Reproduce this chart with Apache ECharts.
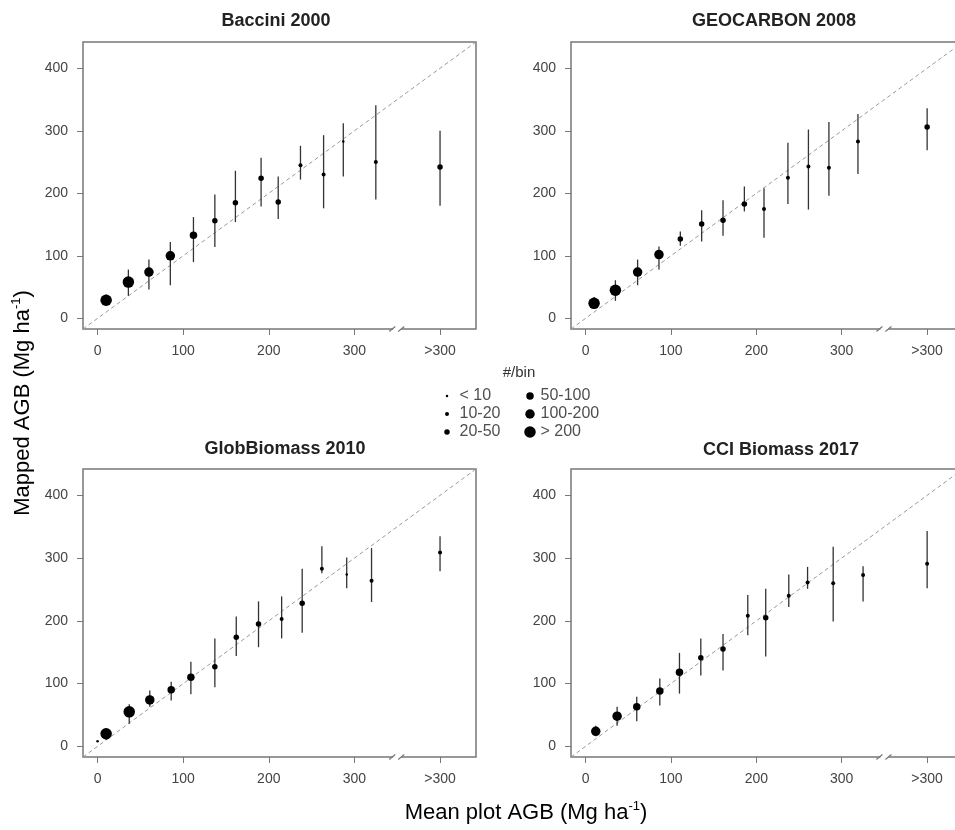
<!DOCTYPE html>
<html>
<head>
<meta charset="utf-8">
<script src="https://cdn.jsdelivr.net/npm/echarts@6/dist/echarts.min.js"></script>
<style>
  html, body { margin: 0; padding: 0; background: #fff; }
  #chart { width: 955px; height: 830px; }
</style>
</head>
<body>
<div id="chart"></div>
<script>
// panel titles
const titles = ['Baccini 2000', 'GEOCARBON 2008', 'GlobBiomass 2010', 'CCI Biomass 2017'];

// bin centre (Mg/ha, 400 = ">300"), mapped mean, error bar low/high, size class
const baccini_x = [10, 36, 60, 85, 112, 137, 161, 191, 211, 237, 264, 287, 325, 400];
const baccini_y = [29, 58, 74, 100, 133, 156, 185, 224, 186, 245, 230, 283, 250, 242];
const baccini_lo = [20, 36, 46, 53, 90, 114, 154, 179, 159, 222, 176, 227, 190, 180];
const baccini_hi = [38, 78, 94, 122, 162, 198, 236, 257, 227, 276, 293, 312, 341, 300];
const baccini_n = [5, 5, 4, 4, 3, 2, 2, 2, 2, 1, 1, 0, 1, 2];

const geocarbon_x = [10, 35, 61, 86, 111, 136, 161, 186, 209, 237, 261, 285, 319, 400];
const geocarbon_y = [24, 45, 74, 102, 127, 151, 157, 183, 175, 225, 243, 241, 283, 306];
const geocarbon_lo = [16, 28, 53, 78, 116, 123, 132, 171, 129, 183, 174, 196, 231, 269];
const geocarbon_hi = [34, 61, 94, 115, 139, 173, 189, 211, 208, 281, 302, 314, 327, 336];
const geocarbon_n = [5, 5, 4, 4, 2, 2, 2, 2, 1, 1, 1, 1, 1, 2];

const globbiomass_x = [0, 10, 37, 61, 86, 109, 137, 162, 188, 215, 239, 262, 291, 320, 400];
const globbiomass_y = [8, 20, 55, 74, 90, 110, 127, 174, 195, 203, 228, 283, 274, 264, 309];
const globbiomass_lo = [8, 10, 36, 63, 73, 83, 94, 144, 158, 172, 181, 276, 252, 230, 279];
const globbiomass_hi = [8, 28, 67, 89, 103, 135, 172, 207, 231, 239, 283, 319, 301, 316, 335];
const globbiomass_n = [0, 5, 5, 4, 3, 3, 2, 2, 2, 1, 2, 1, 0, 1, 1];

const cci_x = [12, 37, 60, 87, 110, 135, 161, 190, 211, 238, 260, 290, 325, 400];
const cci_y = [24, 48, 63, 88, 118, 141, 155, 208, 205, 240, 261, 260, 273, 291];
const cci_lo = [16, 33, 40, 65, 84, 113, 121, 177, 143, 222, 251, 199, 231, 252];
const cci_hi = [33, 63, 79, 108, 149, 172, 179, 241, 251, 274, 286, 318, 287, 343];
const cci_n = [4, 4, 3, 3, 3, 2, 2, 1, 2, 1, 1, 1, 1, 1];

// axes
const axisMin = -17;
const axisMax = 442;
const tickValues = [0, 100, 200, 300, 400];
const xTickLabels = ['0', '100', '200', '300', '>300'];
const breakAt = 350;

// legend (#/bin)
const binLabels = ['< 10', '10-20', '20-50', '50-100', '100-200', '> 200'];
const binSizes = [2.5, 4, 5.5, 7.5, 9.5, 11.5];

const panels = [
  { x: baccini_x, y: baccini_y, lo: baccini_lo, hi: baccini_hi, n: baccini_n },
  { x: geocarbon_x, y: geocarbon_y, lo: geocarbon_lo, hi: geocarbon_hi, n: geocarbon_n },
  { x: globbiomass_x, y: globbiomass_y, lo: globbiomass_lo, hi: globbiomass_hi, n: globbiomass_n },
  { x: cci_x, y: cci_y, lo: cci_lo, hi: cci_hi, n: cci_n },
];

const FONT = 'Liberation Sans, Arial, sans-serif';
// right-hand panels run past the page edge, like the original
const grids = [
  { left: 83, top: 42, width: 393, height: 287 },
  { left: 571, top: 42, width: 392, height: 287 },
  { left: 83, top: 469, width: 393, height: 288 },
  { left: 571, top: 469, width: 392, height: 288 },
];
const titlePos = [[276, 21], [774, 21], [285, 449], [781, 450]];

const tickCommon = {
  show: true,
  customValues: tickValues,
  length: 6,
  lineStyle: { color: '#777', width: 1 },
};

const xAxes = [];
const yAxes = [];
const series = [];

grids.forEach((g, i) => {
  Object.assign(g, {
    show: true, borderColor: '#777', borderWidth: 1.5, backgroundColor: 'transparent',
    containLabel: false, outerBoundsMode: 'none',
  });
  xAxes.push({
    gridIndex: i, type: 'value', min: axisMin, max: axisMax,
    axisLine: { show: false, onZero: false },
    splitLine: { show: false },
    axisTick: tickCommon,
    axisLabel: {
      customValues: tickValues, margin: 15, fontSize: 14, color: '#444', fontFamily: FONT,
      formatter: (v) => xTickLabels[tickValues.indexOf(v)],
    },
  });
  yAxes.push({
    gridIndex: i, type: 'value', min: axisMin, max: axisMax,
    axisLine: { show: false, onZero: false },
    splitLine: { show: false },
    axisTick: tickCommon,
    axisLabel: { customValues: tickValues, margin: 15, fontSize: 14, color: '#444', fontFamily: FONT },
  });

  const p = panels[i];
  // 1:1 line
  series.push({
    type: 'line', xAxisIndex: i, yAxisIndex: i, silent: true, symbol: 'none', z: 1,
    data: [[axisMin, axisMin], [axisMax, axisMax]],
    lineStyle: { color: '#999', width: 1, type: [4, 3] },
  });
  // error bars
  series.push({
    type: 'custom', xAxisIndex: i, yAxisIndex: i, silent: true, z: 2,
    data: p.x.map((x, k) => [x, p.lo[k], p.hi[k]]),
    encode: { x: 0, y: [1, 2] },
    renderItem: (params, api) => {
      const a = api.coord([api.value(0), api.value(1)]);
      const b = api.coord([api.value(0), api.value(2)]);
      return {
        type: 'line',
        shape: { x1: a[0], y1: a[1], x2: b[0], y2: b[1] },
        style: { stroke: '#333', lineWidth: 1.3 },
      };
    },
  });
  // means
  series.push({
    type: 'scatter', xAxisIndex: i, yAxisIndex: i, silent: true, z: 3,
    data: p.x.map((x, k) => [x, p.y[k], p.n[k]]),
    symbolSize: (v) => binSizes[v[2]],
    itemStyle: { color: '#000', opacity: 1 },
  });
  // axis break mark
  series.push({
    type: 'custom', xAxisIndex: i, yAxisIndex: i, silent: true, z: 4,
    data: [[breakAt, axisMin]],
    renderItem: (params, api) => {
      const c = api.coord([api.value(0), api.value(1)]);
      return {
        type: 'group',
        children: [
          { type: 'rect', shape: { x: c[0] - 4, y: c[1] - 2, width: 8, height: 4 }, style: { fill: '#fff' } },
          { type: 'line', shape: { x1: c[0] - 8, y1: c[1] + 2.5, x2: c[0] - 2, y2: c[1] - 2.5 }, style: { stroke: '#777', lineWidth: 1.2 } },
          { type: 'line', shape: { x1: c[0] + 1, y1: c[1] + 2.5, x2: c[0] + 7, y2: c[1] - 2.5 }, style: { stroke: '#777', lineWidth: 1.2 } },
        ],
      };
    },
  });
});

// legend grid
grids.push({ left: 447, top: 396, width: 83, height: 36, show: false, outerBoundsMode: 'none' });
xAxes.push({ gridIndex: 4, type: 'value', min: 0, max: 1, show: false });
yAxes.push({ gridIndex: 4, type: 'value', min: 0, max: 2, inverse: true, show: false });
const legendPts = binLabels.map((lab, k) => [Math.floor(k / 3), k % 3, k]);
series.push({
  type: 'scatter', xAxisIndex: 4, yAxisIndex: 4, silent: true,
  data: legendPts,
  symbolSize: (v) => binSizes[v[2]],
  itemStyle: { color: '#000', opacity: 1 },
});
series.push({
  type: 'scatter', xAxisIndex: 4, yAxisIndex: 4, silent: true,
  data: legendPts.map((v) => ({ value: v, label: { distance: v[0] === 0 ? 12 : 10 } })),
  symbolSize: 1,
  itemStyle: { color: 'rgba(0,0,0,0)' },
  label: {
    show: true, position: 'right', fontSize: 16, color: '#222', fontFamily: FONT,
    formatter: (p) => binLabels[p.value[2]],
  },
});

const graphic = titles.map((t, i) => ({
  type: 'text', x: titlePos[i][0], y: titlePos[i][1], silent: true,
  style: { text: t, align: 'center', verticalAlign: 'middle', font: 'bold 18px ' + FONT, fill: '#222' },
}));
graphic.push({
  type: 'text', x: 519, y: 373, silent: true,
  style: { text: '#/bin', align: 'center', verticalAlign: 'middle', font: '15px ' + FONT, fill: '#333' },
});
const nameRich = {
  a: { fontSize: 22, fontFamily: FONT, color: '#222', lineHeight: 26 },
  s: { fontSize: 13, fontFamily: FONT, color: '#222', verticalAlign: 'top', lineHeight: 26 },
};
graphic.push({
  type: 'text', x: 526, y: 813, silent: true,
  style: { text: '{a|Mean plot AGB (Mg ha}{s|-1}{a|)}', rich: nameRich, align: 'center', verticalAlign: 'middle' },
});
graphic.push({
  type: 'text', x: 23, y: 403, rotation: Math.PI / 2, silent: true,
  style: { text: '{a|Mapped AGB (Mg ha}{s|-1}{a|)}', rich: nameRich, align: 'center', verticalAlign: 'middle' },
});

const chart = echarts.init(document.getElementById('chart'));
chart.setOption({
  animation: false,
  backgroundColor: '#fff',
  textStyle: { fontFamily: FONT },
  grid: grids,
  xAxis: xAxes,
  yAxis: yAxes,
  series: series,
  graphic: graphic,
});
</script>
</body>
</html>
